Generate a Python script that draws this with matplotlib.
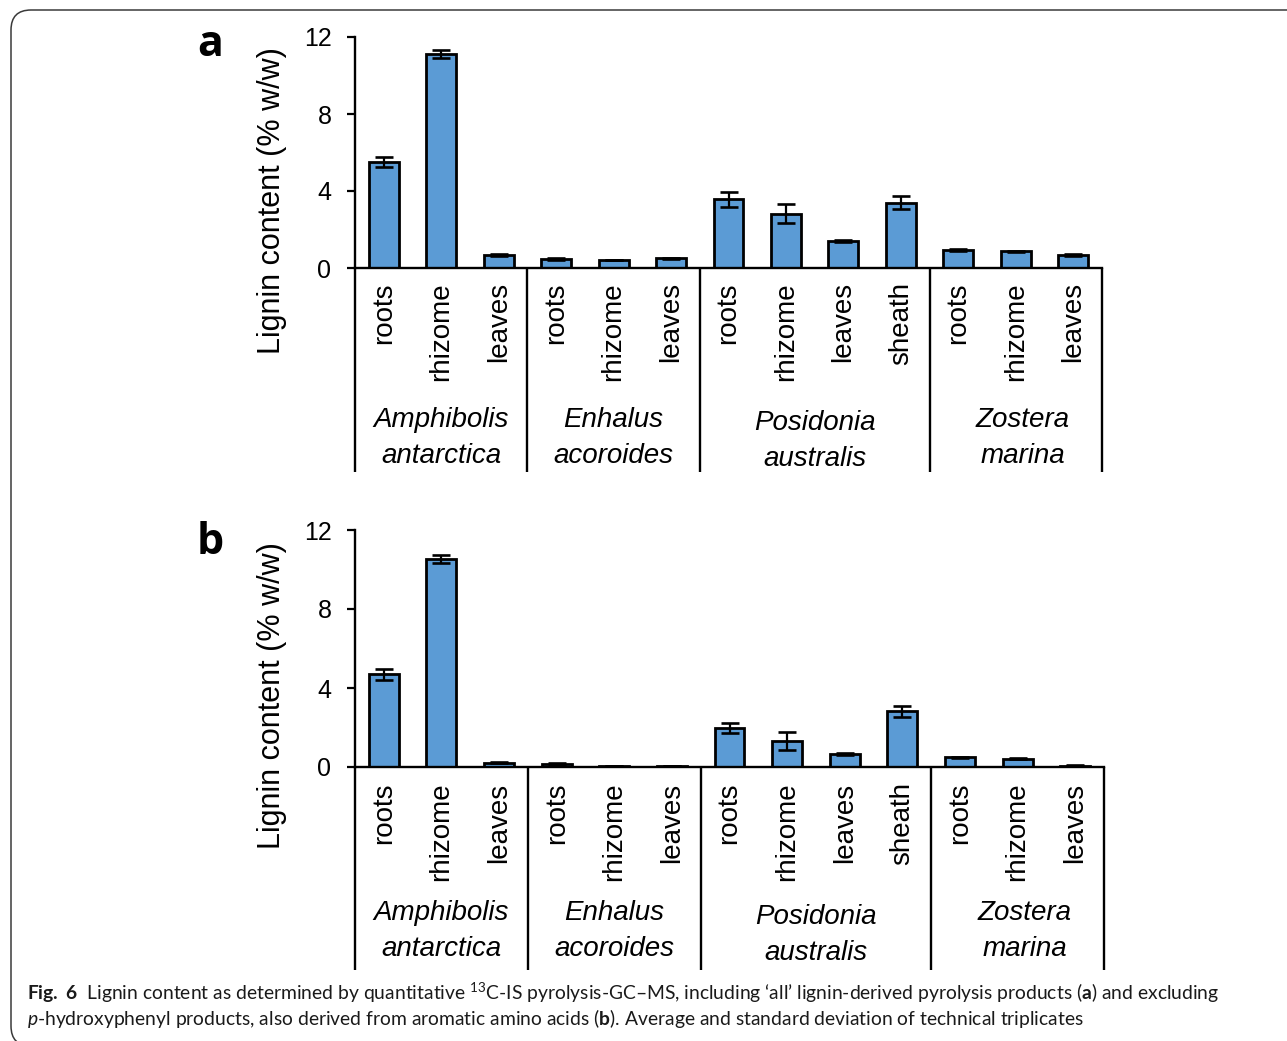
#! /usr/bin/env python3

'''
Lignin content of seagrass tissues, two panels (all products / without
p-hydroxyphenyl products), drawn in the Excel-like style of the figure.
'''

import matplotlib
matplotlib.use('Agg')
import matplotlib.pyplot as plt
import matplotlib.transforms as mtransforms
from matplotlib.patches import FancyBboxPatch


W, H = 1287, 1041
BLUE = '#5B9BD5'

species = ['Amphibolis\nantarctica', 'Enhalus\nacoroides',
           'Posidonia\naustralis', 'Zostera\nmarina']
tissues = ['roots', 'rhizome', 'leaves',
           'roots', 'rhizome', 'leaves',
           'roots', 'rhizome', 'leaves', 'sheath',
           'roots', 'rhizome', 'leaves']
group_sizes = [3, 3, 4, 3]

lignin_all = [5.50, 11.12, 0.67, 0.47, 0.42, 0.50,
              3.58, 2.82, 1.42, 3.39, 0.93, 0.86, 0.67]
lignin_all_sd = [0.25, 0.20, 0.05, 0.03, 0.02, 0.03,
                 0.39, 0.50, 0.05, 0.35, 0.04, 0.04, 0.04]
lignin_no_ph = [4.70, 10.52, 0.22, 0.15, 0.05, 0.04,
                1.97, 1.30, 0.66, 2.82, 0.50, 0.42, 0.06]
lignin_no_ph_sd = [0.27, 0.20, 0.03, 0.03, 0.01, 0.01,
                   0.25, 0.45, 0.04, 0.27, 0.03, 0.04, 0.02]
y_ticks = [0, 4, 8, 12]


def px_axes(fig, left, right, top, bottom):
    '''Axes from pixel edges measured on the reference.'''
    return fig.add_axes([left / W, 1 - bottom / H,
                         (right - left) / W, (bottom - top) / H])


def draw_panel(ax, values, errors, geo):
    x = [i + 0.5 for i in range(len(values))]
    ax.bar(x, values, width=0.52, color=BLUE, edgecolor='black',
           linewidth=2.0, zorder=2)
    ax.errorbar(x, values, yerr=errors, fmt='none', ecolor='black',
                elinewidth=1.6, capsize=6.5, capthick=1.9, zorder=3)
    ax.set_xlim(0, len(values))
    ax.set_ylim(0, 12)
    ax.set_yticks(y_ticks)
    ax.set_xticks([])
    for spine in 'right', 'top':
        ax.spines[spine].set_visible(False)
    for spine in 'left', 'bottom':
        ax.spines[spine].set_linewidth(1.7)
    ax.tick_params(axis='y', direction='out', length=6, width=1.6,
                   labelsize=18, pad=11)

    trans = mtransforms.blended_transform_factory(ax.transData, ax.transAxes)
    for xi, name in zip(x, tissues):
        ax.text(xi, geo['cat'], name, rotation=90, ha='center', va='top',
                fontsize=20, transform=trans)

    edges = [0]
    for n in group_sizes:
        edges.append(edges[-1] + n)
    for e in edges:
        ax.plot([e, e], [0, geo['sep']], color='black', linewidth=1.7,
                transform=trans, clip_on=False, solid_capstyle='butt')
    for i, name in enumerate(species):
        xc = (edges[i] + edges[i + 1]) / 2
        if i == 3:
            xc += 0.12
        yc = geo['pos'] if i == 2 else geo['sp']
        ax.text(xc, yc, name, ha='center', va='center', fontsize=20,
                style='italic', linespacing=1.5, transform=trans)


def main():
    plt.rcParams['font.family'] = ['Liberation Sans', 'DejaVu Sans']
    plt.rcParams['mathtext.fontset'] = 'custom'
    plt.rcParams['mathtext.rm'] = 'Lato'
    plt.rcParams['mathtext.it'] = 'Lato:italic'
    plt.rcParams['mathtext.bf'] = 'Lato:bold'

    fig = plt.figure(figsize=(W / 100, H / 100), dpi=100)

    border = FancyBboxPatch((0.11, -0.05), 13.0, 10.36,
                            boxstyle='round,pad=0,rounding_size=0.2',
                            transform=fig.dpi_scale_trans,
                            facecolor='none', edgecolor='#3a3a3a',
                            linewidth=1.1)
    fig.add_artist(border)

    panels = [
        (lignin_all, lignin_all_sd, 'a', (355, 1102, 37, 268), 201, 45,
         dict(cat=-0.062, sep=-0.883, sp=-0.734, pos=-0.749)),
        (lignin_no_ph, lignin_no_ph_sd, 'b', (355, 1104, 530, 767), 696, 543,
         dict(cat=-0.065, sep=-0.857, sp=-0.694, pos=-0.709)),
    ]
    for values, errors, letter, box, ylab_y, let_y, geo in panels:
        ax = px_axes(fig, *box)
        draw_panel(ax, values, errors, geo)
        fig.text(272 / W, 1 - ylab_y / H, 'Lignin content (% w/w)',
                 rotation=90, ha='center', va='center', fontsize=22)
        fig.text(210 / W, 1 - let_y / H, letter, ha='center', va='center',
                 fontsize=31, fontweight='bold', family='Open Sans')

    line1 = (r'$\mathbf{Fig.\ 6}$  Lignin content as determined by '
             r'quantitative $^{13}$C-IS pyrolysis-GC–MS, including ‘all’ '
             r'lignin-derived pyrolysis products ($\mathbf{a}$) and excluding')
    line2 = (r'$\mathit{p}$-hydroxyphenyl products, also derived from '
             r'aromatic amino acids ($\mathbf{b}$). Average and standard '
             r'deviation of technical triplicates')
    fig.text(27 / W, 1 - 993 / H, line1, ha='left', va='center',
             fontsize=13.9, family='Lato', color='#1a1a1a')
    fig.text(27 / W, 1 - 1019 / H, line2, ha='left', va='center',
             fontsize=13.9, family='Lato', color='#1a1a1a')

    fig.savefig('out.png', dpi=100)


if __name__ == '__main__':
    main()
